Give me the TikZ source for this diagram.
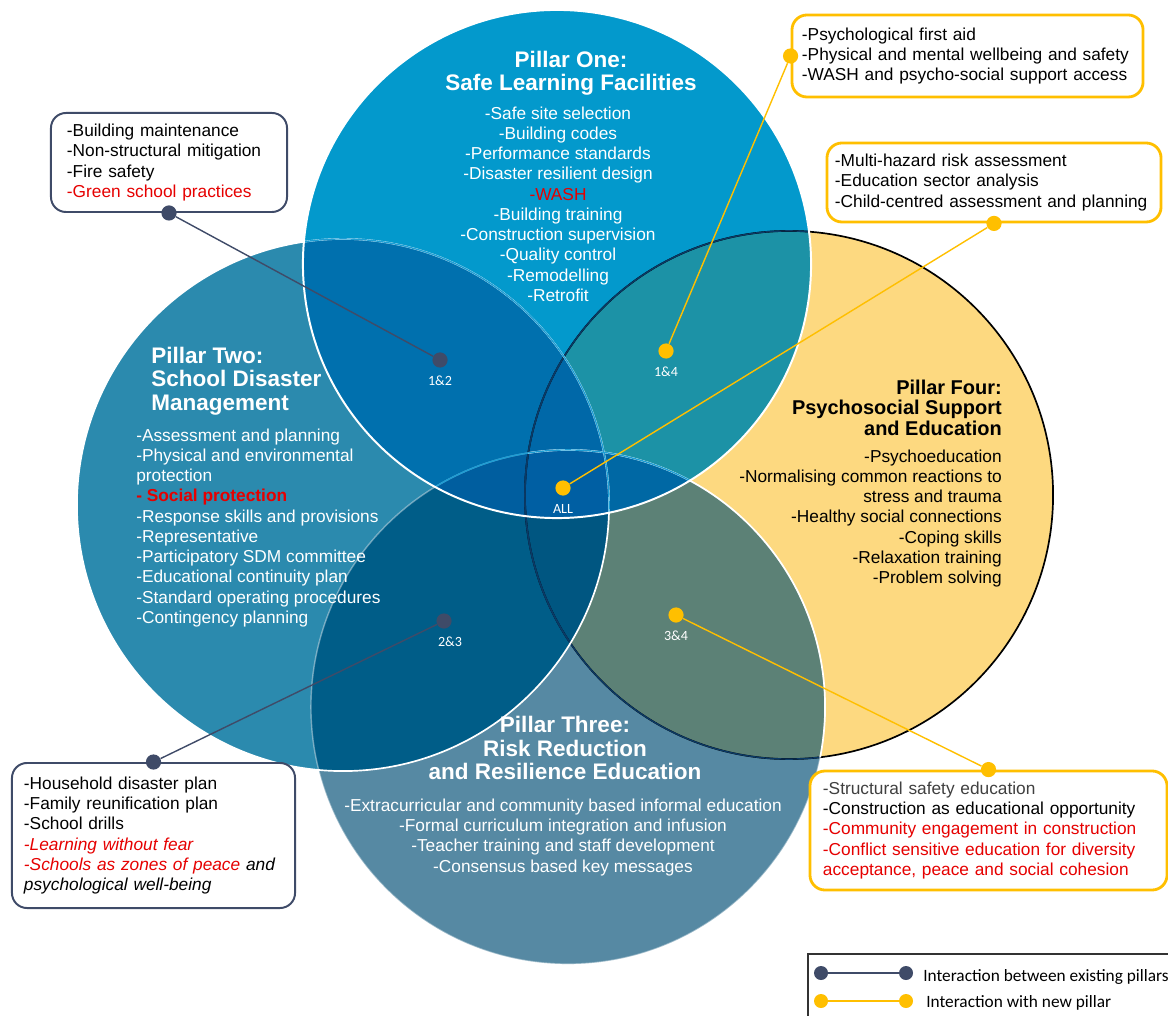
\documentclass[tikz,border=0pt]{standalone}
\usepackage{fontspec}
\setmainfont{Liberation Sans}
\newfontfamily\calfont{Carlito}
\usetikzlibrary{positioning}
\definecolor{pone}{HTML}{0399CC}
\definecolor{ptwo}{HTML}{2B8AAE}
\definecolor{pthree}{HTML}{5689A3}
\definecolor{pfour}{HTML}{FDD980}
\definecolor{ponetwo}{HTML}{0070AE}
\definecolor{ponethree}{HTML}{0068A6}
\definecolor{ponefour}{HTML}{1C92A6}
\definecolor{ptwothree}{HTML}{005D88}
\definecolor{ptwofour}{HTML}{00659E}
\definecolor{pthreefour}{HTML}{5C8176}
\definecolor{ptriA}{HTML}{005E9F}
\definecolor{ptriB}{HTML}{0068A8}
\definecolor{ptriC}{HTML}{0068A4}
\definecolor{ptriD}{HTML}{005681}
\definecolor{pall}{HTML}{005FA3}
\definecolor{dkgrey}{HTML}{3F4B68}
\definecolor{amber}{HTML}{FFBF00}
\definecolor{wred}{HTML}{E60000}
\definecolor{navy}{HTML}{0B3A66}
\definecolor{lblue}{HTML}{1E9ED4}

\begin{document}
\begin{tikzpicture}[x=0.025cm, y=-0.025cm,
  txt/.style={inner sep=0pt, font=\fontsize{12.3}{14.4}\selectfont},
  ttl/.style={inner sep=0pt, font=\bfseries\fontsize{16}{16.7}\selectfont},
  dkbox/.style={txt, draw=dkgrey, line width=1.4pt, rounded corners=0.375cm, fill=white, align=left},
  ylbox/.style={dkbox, draw=amber, line width=2pt},
  dkdot/.style={circle, fill=dkgrey, inner sep=0pt, minimum size=0.38cm},
  yldot/.style={dkdot, fill=amber},
  dkline/.style={dkgrey, line width=1pt},
  ylline/.style={amber, line width=1pt},
  num/.style={inner sep=0pt, text=white, font=\calfont\fontsize{10}{10}\selectfont}]
\useasboundingbox (0,0) rectangle (1168,1016);

\def\cone{(557,264) circle[radius=6.35cm]}
\def\ctwo{(343,505) circle[radius=6.65cm]}
\def\cthree{(568,707) circle[radius=6.425cm]}
\def\cfour{(789,495) circle[radius=6.6cm]}

% the four pillars and their overlaps
\fill[pone] \cone; \fill[ptwo] \ctwo; \fill[pthree] \cthree; \fill[pfour] \cfour;
\begin{scope} \clip \cone; \fill[ponetwo] \ctwo; \fill[ponethree] \cthree; \fill[ponefour] \cfour; \end{scope}
\begin{scope} \clip \ctwo; \fill[ptwothree] \cthree; \fill[ptwofour] \cfour; \end{scope}
\begin{scope} \clip \cthree; \fill[pthreefour] \cfour; \end{scope}
\begin{scope} \clip \cone; \clip \ctwo; \fill[ptriA] \cthree; \fill[ptriB] \cfour; \end{scope}
\begin{scope} \clip \cone; \clip \cthree; \fill[ptriC] \cfour; \end{scope}
\begin{scope} \clip \ctwo; \clip \cthree; \fill[ptriD] \cfour; \end{scope}
\begin{scope} \clip \cone; \clip \ctwo; \clip \cthree; \fill[pall] \cfour; \end{scope}

% edges
\draw[black, line width=1.2pt] \cfour;
\begin{scope} \clip \cone; \draw[navy, line width=1pt] \cfour; \end{scope}
\begin{scope} \clip \ctwo; \draw[navy, line width=1pt] \cfour; \end{scope}
\begin{scope} \clip \cthree; \draw[navy, line width=1pt] \cfour; \end{scope}
\draw[white, opacity=.4, line width=1pt] \cthree;
\begin{scope} \clip \cfour; \draw[white, line width=1.2pt] \cthree; \end{scope}
\draw[white, line width=1.2pt] \ctwo;
\begin{scope} \clip \cone; \draw[lblue, line width=1pt] \ctwo; \draw[lblue, line width=1pt] \cthree; \end{scope}
\draw[white, line width=1.4pt] \cone;

% pillar texts
\node[ttl, text=white, align=center, anchor=north] (t1) at (571,50.5) {Pillar One:\\Safe Learning Facilities};
\node[txt, text=white, align=center, anchor=north] (b1) at (558,106.4) {-Safe site selection\\-Building codes\\-Performance standards\\-Disaster resilient design\\\textcolor{wred}{-WASH}\\-Building training\\-Construction supervision\\-Quality control\\-Remodelling\\-Retrofit};

\node[ttl, text=white, align=left, anchor=north west] (t2) at (151,346.5) {Pillar Two:\\School Disaster\\Management};
\node[txt, text=white, align=left, anchor=north west] (b2) at (136,428.4) {-Assessment and planning\\-Physical and environmental\\protection\\\textcolor{wred}{\bfseries - Social protection}\\-Response skills and provisions\\-Representative\\-Participatory SDM committee\\-Educational continuity plan\\-Standard operating procedures\\-Contingency planning};

\node[ttl, text=white, align=center, anchor=north] (t3) at (565,716.4) {Pillar Three:\\Risk Reduction\\and Resilience Education};
\node[txt, text=white, align=center, anchor=north] (b3) at (563,798.5) {-Extracurricular and community based informal education\\-Formal curriculum integration and infusion\\-Teacher training and staff development\\-Consensus based key messages};

\node[inner sep=0pt, align=right, anchor=north east, font=\bfseries\fontsize{14.2}{14.6}\selectfont] (t4) at (1002,379.5) {Pillar Four:\\Psychosocial Support\\and Education};
\node[txt, align=right, anchor=north east] (b4) at (1002,449.4) {-Psychoeducation\\-Normalising common reactions to\\stress and trauma\\-Healthy social connections\\-Coping skills\\-Relaxation training\\-Problem solving};

% interaction boxes
\node[dkbox, inner xsep=0.4cm, text width=5.1cm, minimum height=2.475cm] (bm) at (169,162.5) {-Building maintenance\\-Non-structural mitigation\\-Fire safety\\\textcolor{wred}{-Green school practices}};
\node[ylbox, inner xsep=0.25cm, text width=8.275cm, minimum height=2.05cm] (pfa) at (967.5,56) {-Psychological first aid\\-Physical and mental wellbeing and safety\\-WASH and psycho-social support access};
\node[ylbox, inner xsep=0.2cm, text width=7.95cm, minimum height=1.975cm] (mhr) at (994,182.5) {-Multi-hazard risk assessment\\-Education sector analysis\\-Child-centred assessment and planning};
\node[dkbox, inner xsep=0.3cm, text width=6.475cm, minimum height=3.625cm] (hdp) at (153.5,835.5) {-Household disaster plan\\-Family reunification plan\\-School drills\\\textcolor{wred}{\itshape -Learning without fear}\\{\itshape\textcolor{wred}{-Schools as zones of peace} and}\\{\itshape psychological well-being}};
\node[ylbox, inner xsep=0.325cm, text width=8.275cm, minimum height=2.975cm] (sse) at (988.5,830.5) {\textcolor{black!75}{-Structural safety education}\\-Construction as educational opportunity\\\textcolor{wred}{-Community engagement in construction}\\\textcolor{wred}{-Conflict sensitive education for diversity}\\\textcolor{wred}{acceptance, peace and social cohesion}};

% interaction points
\node[dkdot] (d12) at (440,360) {};
\node[num, below=0.2cm of d12] (n12) {1\&2};
\node[yldot] (d14) at (666,351) {};
\node[num, below=0.2cm of d14] (n14) {1\&4};
\node[yldot] (dall) at (563,488) {};
\node[num, below=0.2cm of dall] (nall) {ALL};
\node[dkdot] (d23) at (444,621) {};
\node[num, below=0.2cm of d23, xshift=0.15cm] (n23) {2\&3};
\node[yldot] (d34) at (676,615) {};
\node[num, below=0.2cm of d34] (n34) {3\&4};

\node[dkdot] (e12) at (bm.south) {};
\node[yldot] (e14) at (pfa.west) {};
\node[yldot] (eall) at (mhr.south) {};
\node[dkdot] (e23) at (hdp.north) {};
\node[yldot] (e34) at (sse.north) {};
\draw[dkline] (d12) -- (e12);
\draw[ylline] (d14) -- (e14);
\draw[ylline] (dall) -- (eall);
\draw[dkline] (d23) -- (e23);
\draw[ylline] (d34) -- (e34);

% legend
\draw[black!80, line width=0.8pt] (808,1030) |- (1180,954);
\node[dkdot, minimum size=0.35cm] (lg1) at (821,973) {};
\node[dkdot, minimum size=0.35cm] (lg2) at (906,973) {};
\node[yldot, minimum size=0.35cm] (ly1) at (821,1001) {};
\node[yldot, minimum size=0.35cm] (ly2) at (906,1001) {};
\draw[dkline] (lg1) -- (lg2);
\draw[ylline] (ly1) -- (ly2);
\node[anchor=west, inner sep=0pt, font=\calfont\fontsize{12.3}{12.3}\selectfont] (lt1) at (923,977) {Interaction between existing pillars};
\node[anchor=west, inner sep=0pt, font=\calfont\fontsize{12.3}{12.3}\selectfont] (lt2) at (926,1003) {Interaction with new pillar};
\end{tikzpicture}
\end{document}
